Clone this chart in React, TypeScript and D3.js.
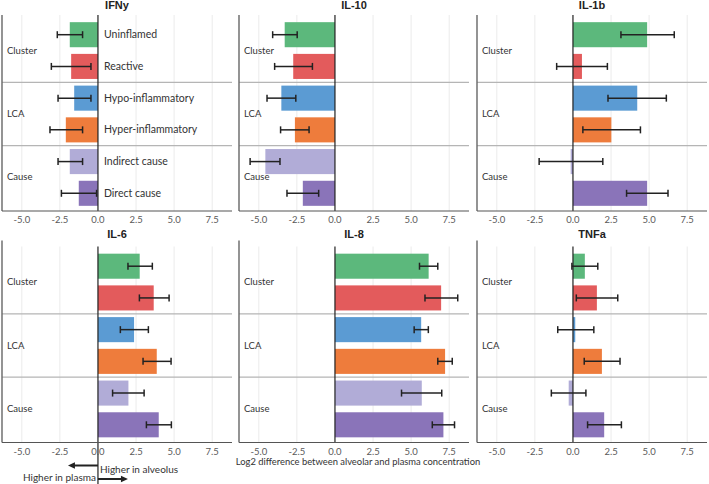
import React from "react";
import * as d3 from "d3";

const cytokines = ["IFNy", "IL-10", "IL-1b", "IL-6", "IL-8", "TNFa"];
const subgroups = ["Uninflamed", "Reactive", "Hypo-inflammatory", "Hyper-inflammatory", "Indirect cause", "Direct cause"];
const groups = ["Cluster", "LCA", "Cause"];
const barColors = ["#5cb87c", "#e35b5c", "#5b9bd3", "#ee7c3c", "#b1acd7", "#8a74b9"];
const xTicks = [-5, -2.5, 0, 2.5, 5, 7.5];

// mean log2 difference per subgroup, and lower / upper error bounds
const ifnyMean = [-1.85, -1.76, -1.56, -2.11, -1.85, -1.26];
const ifnyLow = [-2.67, -3.06, -2.62, -3.15, -2.62, -2.4];
const ifnyHigh = [-1.01, -0.46, -0.46, -1.01, -1.01, -0.09];

const il10Mean = [-3.3, -2.74, -3.52, -2.63, -4.57, -2.11];
const il10Low = [-4.09, -3.96, -4.46, -3.57, -5.57, -3.15];
const il10High = [-2.48, -1.48, -2.57, -1.7, -3.61, -1.07];

const il1bMean = [4.87, 0.59, 4.22, 2.52, -0.15, 4.87];
const il1bLow = [3.15, -1.07, 2.3, 0.65, -2.22, 3.52];
const il1bHigh = [6.65, 2.26, 6.13, 4.43, 1.96, 6.24];

const il6Mean = [2.74, 3.66, 2.37, 3.86, 2.0, 3.99];
const il6Low = [1.97, 2.72, 1.47, 2.96, 0.96, 3.18];
const il6High = [3.57, 4.67, 3.31, 4.8, 3.03, 4.82];

const il8Mean = [6.15, 6.97, 5.66, 7.23, 5.7, 7.12];
const il8Low = [5.55, 5.91, 5.2, 6.75, 4.37, 6.39];
const il8High = [6.75, 8.06, 6.13, 7.7, 7.01, 7.85];

const tnfaMean = [0.78, 1.57, 0.15, 1.9, -0.28, 2.05];
const tnfaLow = [-0.07, 0.22, -1.0, 0.74, -1.42, 0.96];
const tnfaHigh = [1.63, 2.94, 1.37, 3.09, 0.85, 3.18];

const panelData = [
  { mean: ifnyMean, low: ifnyLow, high: ifnyHigh },
  { mean: il10Mean, low: il10Low, high: il10High },
  { mean: il1bMean, low: il1bLow, high: il1bHigh },
  { mean: il6Mean, low: il6Low, high: il6High },
  { mean: il8Mean, low: il8Low, high: il8High },
  { mean: tnfaMean, low: tnfaLow, high: tnfaHigh },
];

const W = 709;
const H = 484;
const colX = [2, 239, 477];
const rowY = [15, 246.5];
const titleY = [8.5, 237.5];
const PW = 230;
const PH = 196;
const font = "Lato, 'Open Sans', sans-serif";
const titleFont = "'Liberation Sans', Arial, sans-serif";

const x = d3.scaleLinear().domain([-6.3, 8.8]).range([0, PW]);
const y = d3.scaleBand<string>().domain(subgroups).range([4, 194]).paddingInner(0.21).paddingOuter(0.1);

function Panel({ idx }: { idx: number }) {
  const col = idx % 3;
  const row = Math.floor(idx / 3);
  const px = colX[col];
  const py = rowY[row];
  const d = panelData[idx];
  const bw = y.bandwidth();
  const sepYs = [1, 3].map((i) => (y(subgroups[i])! + bw + y(subgroups[i + 1])!) / 2);
  const zeroBottom = idx === 3 ? H - py : PH;
  return (
    <g transform={`translate(${px},${py})`}>
      {xTicks.filter((t) => t !== 0).map((t) => (
        <line key={t} x1={x(t)} x2={x(t)} y1={0} y2={PH} stroke="#ebebeb" strokeWidth={1} />
      ))}
      {sepYs.map((sy, i) => (
        <line key={i} x1={0} x2={PW} y1={sy} y2={sy} stroke="#b5b5b5" strokeWidth={1.2} />
      ))}
      {subgroups.map((s, i) => {
        const v = d.mean[i];
        const x0 = x(Math.min(0, v));
        const x1 = x(Math.max(0, v));
        return (
          <rect key={s} x={x0} y={y(s)!} width={x1 - x0} height={bw} fill={barColors[i]} />
        );
      })}
      <line x1={x(0)} x2={x(0)} y1={0} y2={zeroBottom} stroke="#222" strokeWidth={1.2} />
      {subgroups.map((s, i) => {
        const cy = y(s)! + bw / 2;
        return (
          <g key={s} stroke="#222" strokeWidth={1.5}>
            <line x1={x(d.low[i])} x2={x(d.high[i])} y1={cy} y2={cy} />
            <line x1={x(d.low[i])} x2={x(d.low[i])} y1={cy - 3.5} y2={cy + 3.5} />
            <line x1={x(d.high[i])} x2={x(d.high[i])} y1={cy - 3.5} y2={cy + 3.5} />
          </g>
        );
      })}
      <line x1={0} x2={0} y1={row === 1 ? -6 : 0} y2={PH} stroke="#666" strokeWidth={1.4} />
      <line x1={0} x2={PW} y1={PH} y2={PH} stroke="#555" strokeWidth={1.2} />
      {xTicks.map((t) => (
        <text key={t} x={x(t)} y={PH + 12} textAnchor="middle" fontFamily={font} fontSize={9.5} fill="#5a5a5a">
          {t.toFixed(1)}
        </text>
      ))}
      {groups.map((g, gi) => {
        const c1 = y(subgroups[gi * 2])! + bw / 2;
        const c2 = y(subgroups[gi * 2 + 1])! + bw / 2;
        return (
          <text key={g} x={5} y={(c1 + c2) / 2 + 3} fontFamily={font} fontSize={9.5} fill="#333">
            {g}
          </text>
        );
      })}
      {idx === 0 &&
        subgroups.map((s) => (
          <text key={s} x={x(0) + 6} y={y(s)! + bw / 2 + 3.6} fontFamily={font} fontSize={10.5} fill="#333">
            {s}
          </text>
        ))}
      <text x={PW / 2} y={titleY[row] - py} textAnchor="middle" fontFamily={titleFont} fontWeight="bold" fontSize={11} fill="#222">
        {cytokines[idx]}
      </text>
    </g>
  );
}

export default function App() {
  const zx = colX[0] + x(0);
  return (
    <svg width={W} height={H} style={{ position: "absolute", left: 0, top: 0, background: "#fff" }}>
      <rect x={0} y={0} width={W} height={H} fill="#fff" />
      {cytokines.map((c, i) => (
        <Panel key={c} idx={i} />
      ))}
      <text x={358} y={464.5} textAnchor="middle" fontFamily={font} fontSize={9.4} fill="#333">
        Log2 difference between alveolar and plasma concentration
      </text>
      <g stroke="#222" strokeWidth={2} fill="#222">
        <line x1={zx} x2={zx - 24} y1={465.5} y2={465.5} />
        <polygon points={`${zx - 30},465.5 ${zx - 23},462.3 ${zx - 23},468.7`} stroke="none" />
        <line x1={zx} x2={zx + 24} y1={479} y2={479} />
        <polygon points={`${zx + 30},479 ${zx + 23},475.8 ${zx + 23},482.2`} stroke="none" />
      </g>
      <text x={zx + 2} y={472.5} fontFamily={font} fontSize={10} fill="#333">
        Higher in alveolus
      </text>
      <text x={zx - 2} y={480.5} textAnchor="end" fontFamily={font} fontSize={10} fill="#333">
        Higher in plasma
      </text>
    </svg>
  );
}
